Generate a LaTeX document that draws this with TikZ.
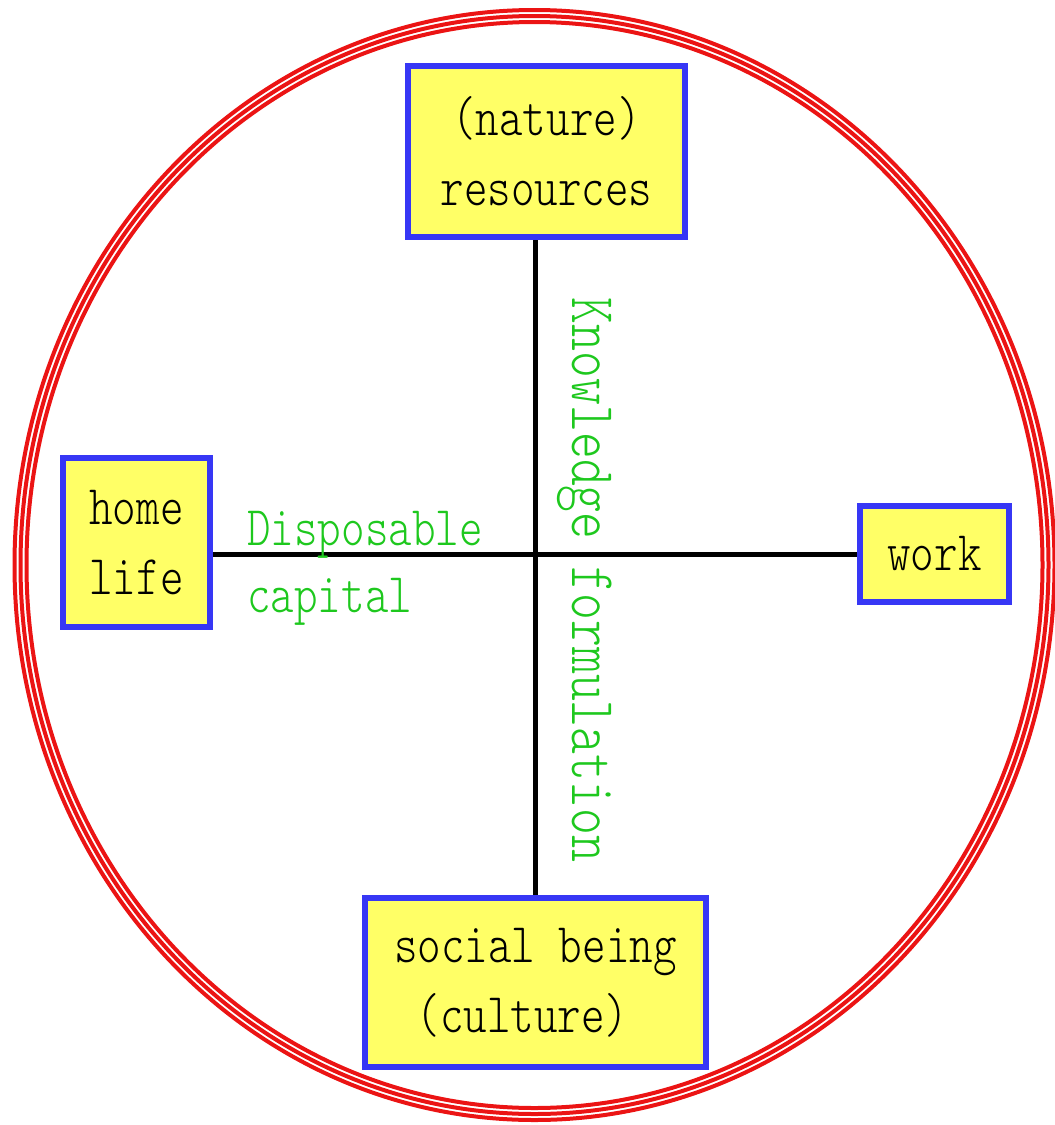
\documentclass[tikz,border=0pt]{standalone}
\usepackage{fontspec}
\newfontfamily\boxfont{lmmonolt10-regular.otf}[FakeStretch=0.8]
\definecolor{boxblue}{RGB}{55,55,245}
\definecolor{boxyellow}{RGB}{255,255,102}
\definecolor{labelgreen}{RGB}{30,200,30}
\definecolor{ringred}{RGB}{235,20,20}
\tikzset{
  field/.style={draw=boxblue, fill=boxyellow, line width=3pt, inner sep=0pt, align=center,
    font=\boxfont\fontsize{28}{35}\selectfont},
  flow/.style={text=labelgreen, inner sep=0pt, font=\boxfont\fontsize{28}{33.5}\selectfont},
  axis/.style={line width=2.5pt}
}
\begin{document}
\begin{tikzpicture}[x=0.5pt,y=-0.5pt]
    \useasboundingbox (0,0) rectangle (1055,1125);
    \foreach \r in {0,6,12}
        \draw[ringred, line width=2pt] (534.5,565) ellipse ({520-\r} and {555-\r});
    \node[field, minimum width=138.5pt, minimum height=85.5pt] (res) at (546.5,151.5) {(nature)\\resources};
    \node[field, minimum width=73.5pt, minimum height=84.5pt] (home) at (136.5,542.5) {home\\life};
    \node[field, minimum width=74.5pt, minimum height=48pt] (work) at (934.5,554) {work};
    \node[field, minimum width=170.5pt, minimum height=84.5pt, align=left] (soc) at (535.5,982.5) {social being\\\hspace*{0.4em}(culture)};
    \draw[axis] (res.south -| soc.north) -- (soc.north);
    \draw[axis] (home.east |- work.west) -- (work.west);
    \node[flow, font=\boxfont\fontsize{32}{38}\selectfont, rotate=-90] (know) at (585,580) {Knowledge formulation};
    \node[flow, align=left, anchor=west] (disp) at (247,568) {Disposable\\capital};
\end{tikzpicture}
\end{document}
